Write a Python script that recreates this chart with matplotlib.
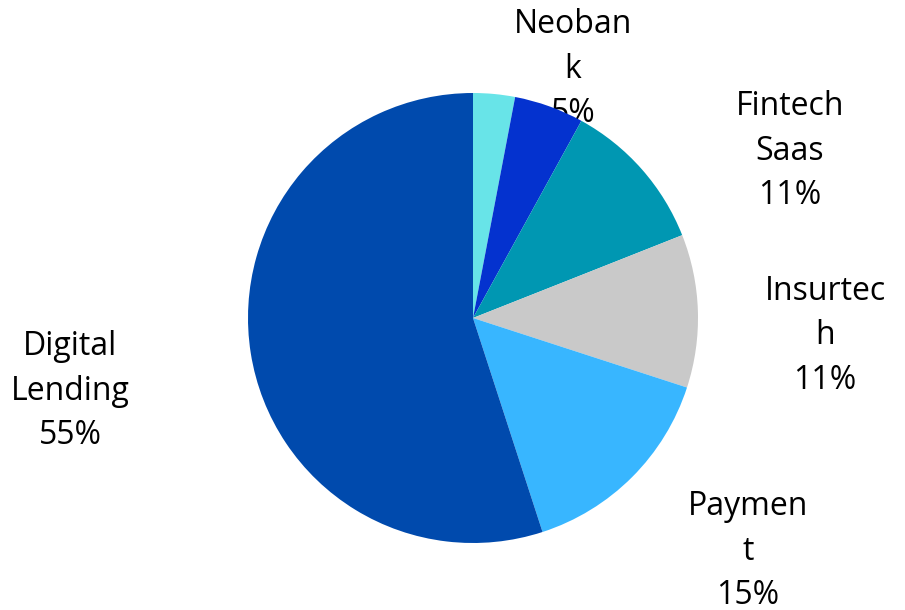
import matplotlib
matplotlib.use("Agg")
import matplotlib.pyplot as plt

categories = ["", "Neobank", "Fintech Saas", "Insurtech", "Payment", "Digital Lending"]
label_texts = ["", "Neoban\nk", "Fintech\nSaas", "Insurtec\nh", "Paymen\nt", "Digital\nLending"]
values = [3, 5, 11, 11, 15, 55]
colors = ["#68E4E8", "#0432CF", "#0097B2", "#C9C9C9", "#38B6FF", "#004AAD"]
# label centre positions (pixels, y from top)
label_pos = [None, (573, 69), (790, 151), (825, 336), (748, 551), (70, 391)]

W, H = 905, 610
fig = plt.figure(figsize=(W / 100, H / 100), dpi=100)
ax = fig.add_axes([0, 0, 1, 1])

ax.pie(values, colors=colors, startangle=90, counterclock=False,
       center=(473, H - 318), radius=225, frame=True,
       wedgeprops=dict(linewidth=0, zorder=2))
ax.set_xlim(0, W)
ax.set_ylim(0, H)
ax.set_aspect("equal")
ax.axis("off")

for txt, v, pos in zip(label_texts, values, label_pos):
    if pos is None:
        continue
    ax.text(pos[0], H - pos[1], f"{txt}\n{v}%", ha="center", va="center",
            fontsize=23, family=["Open Sans", "DejaVu Sans"], color="black",
            linespacing=1.45, zorder=1)

fig.savefig("out.png", dpi=100, facecolor="white")
